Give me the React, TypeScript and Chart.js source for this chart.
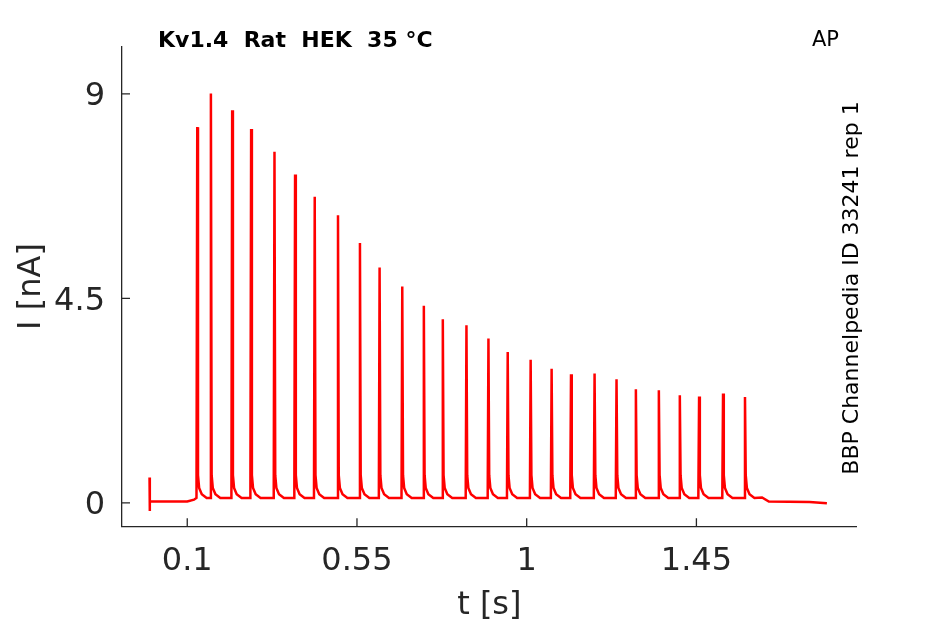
import { useEffect, useRef } from 'react';
import { Chart, registerables } from 'chart.js';

Chart.register(...registerables);

const xTicks = [0.1, 0.55, 1, 1.45];
const yTicks = [0, 4.5, 9];

// stimulus artefact and resting current before the train [s], [nA]
const leadTimes = [0, 0.0005, 0.001, 0.1, 0.118];
const leadValues = [0.56, -0.18, 0.03, 0.03, 0.07];

// spike times [s] and peak currents [nA]
const spikeTimes = [
  0.1265, 0.1627, 0.2191, 0.2694, 0.3313, 0.3859, 0.438, 0.4997, 0.5579,
  0.61, 0.6701, 0.7273, 0.7776, 0.8403, 0.8986, 0.9497, 1.0105, 1.0661,
  1.1175, 1.18, 1.2382, 1.2895, 1.3504, 1.406, 1.4571, 1.5206, 1.5788,
];
const spikePeaks = [
  8.27, 9.01, 8.64, 8.23, 7.73, 7.23, 6.74, 6.33, 5.72, 5.18, 4.76, 4.34,
  4.04, 3.91, 3.62, 3.32, 3.15, 2.95, 2.83, 2.85, 2.72, 2.5, 2.48, 2.37,
  2.34, 2.41, 2.33,
];

// foot of each spike, after the peak: offsets [s] and levels above rest [nA]
const footOffsets = [0.002, 0.005, 0.012, 0.025];
const footLevels = [0.5, 0.22, 0.08, 0];
const restLevel = 0.11;

// current after the last spike [s], [nA]
const tailTimes = [1.624, 1.642, 1.75, 1.796];
const tailValues = [0.12, 0.03, 0.02, -0.01];

const axisColor = '#262626';
const family = "'DejaVu Sans', sans-serif";

function buildTrace() {
  const pts: { x: number; y: number }[] = [];
  leadTimes.forEach((t, i) => pts.push({ x: t, y: leadValues[i] }));
  spikeTimes.forEach((t, i) => {
    pts.push({ x: t - 0.002, y: restLevel });
    pts.push({ x: t, y: spikePeaks[i] });
    footOffsets.forEach((o, j) => pts.push({ x: t + o, y: restLevel + footLevels[j] }));
  });
  tailTimes.forEach((t, i) => pts.push({ x: t, y: tailValues[i] }));
  return pts;
}

const decorations = {
  id: 'decorations',
  afterDraw(chart: any) {
    const { ctx, scales } = chart;
    const xs = scales.x;
    const ys = scales.y;
    ctx.save();
    // inward tick marks
    ctx.strokeStyle = axisColor;
    ctx.lineWidth = 1.3;
    ctx.beginPath();
    xTicks.forEach((v) => {
      const px = xs.getPixelForValue(v);
      ctx.moveTo(px, ys.bottom);
      ctx.lineTo(px, ys.bottom - 8);
    });
    yTicks.forEach((v) => {
      const py = ys.getPixelForValue(v);
      ctx.moveTo(xs.left, py);
      ctx.lineTo(xs.left + 8, py);
    });
    ctx.stroke();

    ctx.fillStyle = '#000';
    ctx.textBaseline = 'alphabetic';
    ctx.font = `bold 22px ${family}`;
    ctx.textAlign = 'left';
    ctx.fillText('Kv1.4  Rat  HEK  35 °C', 158, 47);

    ctx.font = `21px ${family}`;
    ctx.textAlign = 'center';
    ctx.fillText('AP', 825.5, 46);

    ctx.translate(858, 288);
    ctx.rotate(-Math.PI / 2);
    ctx.font = `22px ${family}`;
    ctx.fillText('BBP Channelpedia ID 33241 rep 1', 0, 0);
    ctx.restore();
  },
};

export default function App() {
  const canvasRef = useRef<HTMLCanvasElement>(null);
  const chartRef = useRef<Chart | null>(null);

  useEffect(() => {
    if (!canvasRef.current) return;
    if (chartRef.current) chartRef.current.destroy();
    const ctx = canvasRef.current.getContext('2d');
    if (!ctx) return;

    chartRef.current = new Chart(ctx, {
      type: 'line',
      data: {
        datasets: [{
          data: buildTrace(),
          borderColor: '#ff0000',
          borderWidth: 2.5,
          pointRadius: 0,
          tension: 0,
          fill: false,
        }],
      },
      options: {
        responsive: false,
        animation: false,
        layout: { padding: { top: 46.7, right: 88.3, left: 0, bottom: 0 } },
        plugins: { legend: { display: false }, tooltip: { enabled: false } },
        scales: {
          x: {
            type: 'linear',
            min: -0.073,
            max: 1.875,
            afterBuildTicks: (s: any) => { s.ticks = xTicks.map((v) => ({ value: v })); },
            afterFit: (s: any) => { s.height = 97.7; },
            grid: { display: false, drawTicks: false },
            border: { display: true, color: axisColor, width: 1.3 },
            ticks: {
              color: axisColor,
              font: { size: 32, family },
              padding: 16,
              maxRotation: 0,
              autoSkip: false,
              callback: (v: any) => String(v),
            },
            title: {
              display: true,
              text: 't [s]',
              color: axisColor,
              font: { size: 32, family, lineHeight: 1 },
              padding: { top: 0, bottom: 2 },
            },
          },
          y: {
            type: 'linear',
            min: -0.515,
            max: 10.04,
            afterBuildTicks: (s: any) => { s.ticks = yTicks.map((v) => ({ value: v })); },
            afterFit: (s: any) => { s.width = 122; },
            grid: { display: false, drawTicks: false },
            border: { display: true, color: axisColor, width: 1.3 },
            ticks: {
              color: axisColor,
              font: { size: 32, family },
              padding: 17,
              labelOffset: 3,
              autoSkip: false,
              callback: (v: any) => String(v),
            },
            title: {
              display: true,
              text: 'I [nA]',
              color: axisColor,
              font: { size: 32, family },
              padding: { top: 12, bottom: 0 },
            },
          },
        },
      },
      plugins: [decorations],
    });

    return () => {
      if (chartRef.current) {
        chartRef.current.destroy();
        chartRef.current = null;
      }
    };
  }, []);

  return (
    <div style={{ position: 'absolute', left: 0, top: 0, width: 945, height: 624, background: '#fff' }}>
      <canvas ref={canvasRef} width={945} height={624} style={{ width: 945, height: 624 }} />
    </div>
  );
}
